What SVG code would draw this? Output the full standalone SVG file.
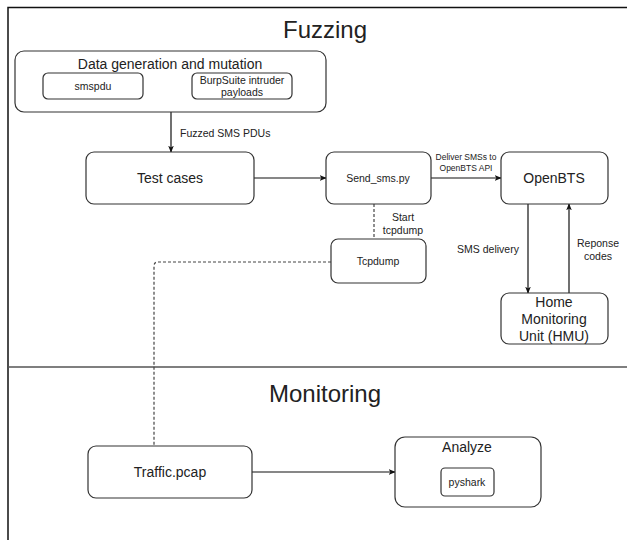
<svg xmlns="http://www.w3.org/2000/svg" width="627" height="540" viewBox="0 0 627 540">
<defs>
<marker id="ah" viewBox="0 0 10 10" refX="9" refY="5" markerWidth="7" markerHeight="7" orient="auto" markerUnits="userSpaceOnUse">
<path d="M0,1 L10,5 L0,9 L2.5,5 Z" fill="#111"/>
</marker>
<style>
text{font-family:"Liberation Sans",Arial,sans-serif;fill:#222;text-anchor:middle}
.box{fill:#fff;stroke:#333;stroke-width:1.2}
.edge{fill:none;stroke:#111;stroke-width:1.2}
.dash{fill:none;stroke:#444;stroke-width:1.2;stroke-dasharray:3,2}
.t14{font-size:14px}
.t10{font-size:10.5px}
.t9{font-size:8.5px}
.title{font-size:24px}
</style>
</defs>
<rect width="627" height="540" fill="#fff"/>
<g id="frame">
<path d="M8,540 L8,7.5 L627,7.5" fill="none" stroke="#111" stroke-width="1.5"/>
<line x1="8" y1="367" x2="627" y2="367" stroke="#555" stroke-width="1.5"/>
<text class="title" x="325" y="38">Fuzzing</text>
<text class="title" x="325" y="402">Monitoring</text>
</g>
<g id="connectors">
<line class="edge" x1="171" y1="112" x2="171" y2="152" marker-end="url(#ah)"/>
<text class="t10" x="180" y="137" style="text-anchor:start">Fuzzed SMS PDUs</text>
<line class="edge" x1="254" y1="178" x2="326" y2="178" marker-end="url(#ah)"/>
<line class="edge" x1="431" y1="178" x2="501" y2="178" marker-end="url(#ah)"/>
<text class="t9" x="466" y="160">Deliver SMSs to</text>
<text class="t9" x="466" y="171">OpenBTS API</text>
<line class="dash" x1="374" y1="204" x2="374" y2="239"/>
<text class="t10" x="403" y="221">Start</text>
<text class="t10" x="403" y="234">tcpdump</text>
<path class="dash" d="M331,262 L158,262 Q154,262 154,266 L154,446"/>
<line class="edge" x1="528" y1="204" x2="528" y2="293" marker-end="url(#ah)"/>
<text class="t10" x="488" y="253">SMS delivery</text>
<line class="edge" x1="569" y1="293" x2="569" y2="204" marker-end="url(#ah)"/>
<text class="t10" x="598" y="247">Reponse</text>
<text class="t10" x="598" y="260">codes</text>
<line class="edge" x1="252" y1="472" x2="395" y2="472" marker-end="url(#ah)"/>
</g>
<g id="datagen">
<rect class="box" x="15" y="51" width="311" height="61" rx="9"/>
<text class="t14" x="170" y="69">Data generation and mutation</text>
</g>
<g id="smspdu">
<rect class="box" x="43" y="73" width="100" height="26" rx="5"/>
<text class="t10" x="93" y="90">smspdu</text>
</g>
<g id="burpsuite">
<rect class="box" x="192" y="73" width="100" height="26" rx="5"/>
<text class="t10" x="242" y="84">BurpSuite intruder</text>
<text class="t10" x="242" y="96">payloads</text>
</g>
<g id="testcases">
<rect class="box" x="86" y="152" width="168" height="52" rx="8"/>
<text class="t14" x="170" y="183">Test cases</text>
</g>
<g id="sendsms">
<rect class="box" x="326" y="152" width="105" height="52" rx="8"/>
<text class="t10" x="378" y="182">Send_sms.py</text>
</g>
<g id="openbts">
<rect class="box" x="501" y="152" width="107" height="52" rx="8"/>
<text class="t14" x="554" y="183">OpenBTS</text>
</g>
<g id="tcpdump">
<rect class="box" x="331" y="239" width="95" height="44" rx="7"/>
<text class="t10" x="378" y="265">Tcpdump</text>
</g>
<g id="hmu">
<rect class="box" x="501" y="293" width="107" height="51" rx="8"/>
<text class="t14" x="554" y="307">Home</text>
<text class="t14" x="554" y="324">Monitoring</text>
<text class="t14" x="554" y="341">Unit (HMU)</text>
</g>
<g id="traffic">
<rect class="box" x="88" y="446" width="164" height="52" rx="8"/>
<text class="t14" x="170" y="477">Traffic.pcap</text>
</g>
<g id="analyze">
<rect class="box" x="395" y="437" width="146" height="70" rx="10"/>
<text class="t14" x="467" y="452">Analyze</text>
</g>
<g id="pyshark">
<rect class="box" x="441" y="468" width="53" height="28" rx="4"/>
<text class="t10" x="467" y="486">pyshark</text>
</g>
</svg>
